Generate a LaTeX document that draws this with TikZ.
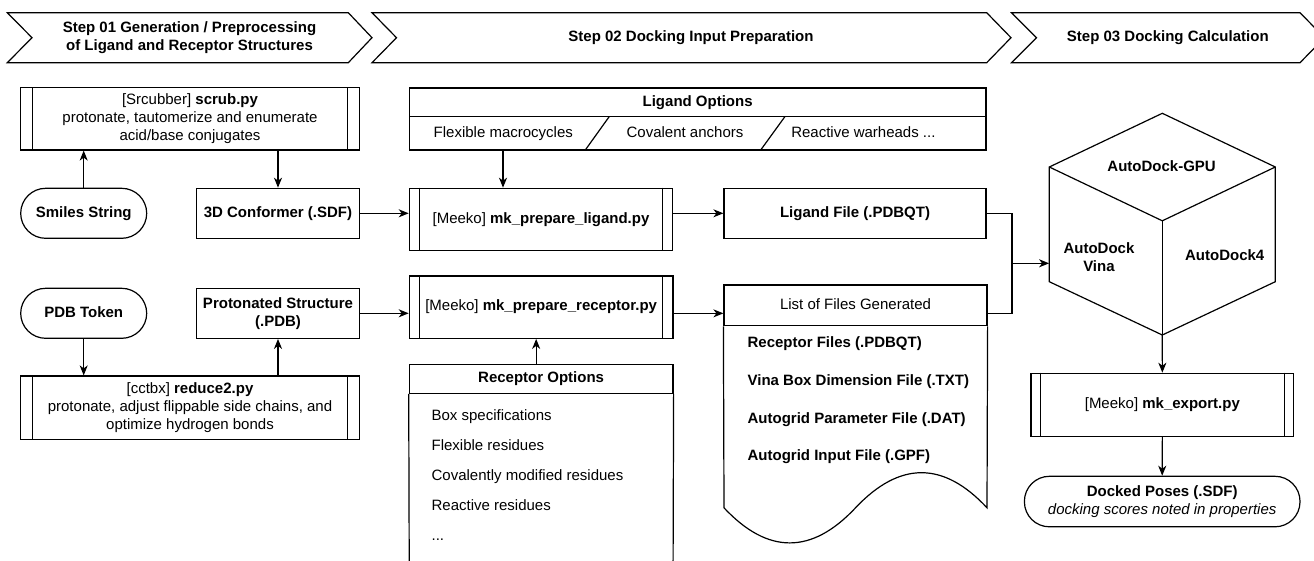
\documentclass[tikz,border=0pt]{standalone}
\usepackage{fontspec}
\setmainfont{Liberation Sans}
\usetikzlibrary{arrows.meta,calc}
\newcommand\procbars[2]{%
  \draw[ln] ([xshift=#2]#1.north west) -- ([xshift=#2]#1.south west);
  \draw[ln] ([xshift=-#2]#1.north east) -- ([xshift=-#2]#1.south east);}
\begin{document}
\begin{tikzpicture}[x=1pt,y=-1pt,
  every node/.style={font=\fontsize{15}{18}\selectfont, inner sep=0pt, text=black},
  ln/.style={draw=black, line width=1.2pt},
  box/.style={ln, fill=white, align=center},
  term/.style={box, rounded corners=25pt},
  sl/.style={text height=10.8pt, text depth=3.2pt},
  arr/.style={draw=black, line width=1.2pt, -{Stealth[length=10pt,width=8pt,inset=3pt]}},
  item/.style={anchor=base west},
]
\useasboundingbox (0,0) rectangle (1314,560);
\clip (0,0) rectangle (1314,560);

% ---------- step chevrons ----------
\draw[ln] (7.3,12.7) -- (348.3,12.7) -- (372,37.7) -- (348.3,62.7) -- (7.3,62.7) -- (32,37.7) -- cycle;
\draw[ln] (372,12.7) -- (986.7,12.7) -- (1011,37.7) -- (986.7,62.7) -- (372,62.7) -- (396.5,37.7) -- cycle;
\draw[ln] (1011.5,12.7) -- (1300,12.7) -- (1324.5,37.7) -- (1300,62.7) -- (1011.5,62.7) -- (1036.5,37.7) -- cycle;
\node[align=center] (s1) at (189.5,37.5) {\textbf{Step 01 Generation / Preprocessing}\\\textbf{of Ligand and Receptor Structures}};
\node[sl] (s2) at (691,37.5) {\textbf{Step 02 Docking Input Preparation}};
\node[sl] (s3) at (1167.8,37.5) {\textbf{Step 03 Docking Calculation}};

% ---------- step 01 ----------
\node[box, minimum width=338.6pt, minimum height=62.3pt] (scrub) at (190,118.85)
  {[Srcubber] \textbf{scrub.py}\\protonate, tautomerize and enumerate\\acid/base conjugates};
\procbars{scrub}{12.6pt}
\node[term, sl, minimum width=126pt, minimum height=50pt] (smiles) at (83.7,213.3) {\textbf{Smiles String}};
\node[box, sl, minimum width=162.6pt, minimum height=50pt] (conf3d) at (278,213.3) {\textbf{3D Conformer (.SDF)}};
\node[term, sl, minimum width=126pt, minimum height=50pt] (pdb) at (83.7,313.3) {\textbf{PDB Token}};
\node[box, minimum width=162.6pt, minimum height=50pt] (protonated) at (278,313.3) {\textbf{Protonated Structure}\\\textbf{(.PDB)}};
\node[box, minimum width=338.6pt, minimum height=63.3pt] (reduce) at (190,407.65)
  {[cctbx] \textbf{reduce2.py}\\protonate, adjust flippable side chains, and\\optimize hydrogen bonds};
\procbars{reduce}{12.6pt}

% ---------- step 02 ----------
\node[box, sl, minimum width=576.7pt, minimum height=28.5pt] (ligopt) at (697.65,102.25) {\textbf{Ligand Options}};
\node[box, minimum width=576.7pt, minimum height=33.5pt] (ligrow) at (697.65,133.25) {};
\draw[ln] (609.3,116.5) -- (585.3,150);
\draw[ln] (785,116.5) -- (760.7,150);
\node[sl] (lo1) at (503.3,133.3) {Flexible macrocycles};
\node[sl] (lo2) at (685,133.3) {Covalent anchors};
\node[sl] (lo3) at (863.4,133.3) {Reactive warheads ...};

\node[box, sl, minimum width=263.4pt, minimum height=62.4pt] (mkligand) at (541,219.5) {[Meeko] \textbf{mk\_prepare\_ligand.py}};
\procbars{mkligand}{11pt}
\node[box, sl, minimum width=262pt, minimum height=50pt] (ligfile) at (855,213.3) {\textbf{Ligand File (.PDBQT)}};

\node[box, sl, minimum width=263.7pt, minimum height=62.3pt] (mkreceptor) at (541.15,307.15) {[Meeko] \textbf{mk\_prepare\_receptor.py}};
\procbars{mkreceptor}{11pt}

\node[box, sl, minimum width=263.7pt, minimum height=29pt] (recopt) at (541.15,378.8) {\textbf{Receptor Options}};
\draw[ln] (recopt.south west) -- (409.3,590);
\draw[ln] (recopt.south east) -- (673,590);
\node[item] (r1) at (431.4,420.5) {Box specifications};
\node[item] (r2) at (431.4,450.5) {Flexible residues};
\node[item] (r3) at (431.4,480.5) {Covalently modified residues};
\node[item] (r4) at (431.4,510.5) {Reactive residues};
\node[item] (r5) at (431.4,540.5) {...};

\node[box, sl, minimum width=263pt, minimum height=40.7pt] (listhdr) at (855.5,305.35) {List of Files Generated};
\draw[ln] (listhdr.south west) -- (724,507.8)
  .. controls (767.8,554.6) and (811.7,554.6) .. (855.5,507.8)
  .. controls (899.7,461) and (943.5,461) .. (987,507.8) -- (listhdr.south east);
\node[sl, anchor=west] (f1) at (747.4,344) {\textbf{Receptor Files (.PDBQT)}};
\node[sl, anchor=west] (f2) at (747.4,381.7) {\textbf{Vina Box Dimension File (.TXT)}};
\node[sl, anchor=west] (f3) at (747.4,419.3) {\textbf{Autogrid Parameter File (.DAT)}};
\node[sl, anchor=west] (f4) at (747.4,456.7) {\textbf{Autogrid Input File (.GPF)}};

% ---------- step 03 ----------
\node[minimum width=226pt, minimum height=221.7pt] (cube) at (1162.3,224.15) {};
\draw[ln, line join=miter] (1162.3,113.3) -- (1275.3,167) -- (1275.3,281.7) -- (1162.3,335)
  -- (1049.3,281.7) -- (1049.3,167) -- cycle;
\draw[ln] (1049.3,167) -- (1162.3,220.8) -- (1275.3,167);
\draw[ln] (1162.3,220.8) -- (1162.3,335);
\node[sl] (gpu) at (1161.6,168) {\textbf{AutoDock-GPU}};
\node[align=center] (vina) at (1099,257) {\textbf{AutoDock}\\\textbf{Vina}};
\node[sl] (ad4) at (1224.7,256.5) {\textbf{AutoDock4}};

\node[box, sl, minimum width=262.7pt, minimum height=63pt] (mkexport) at (1162.35,404.8) {[Meeko] \textbf{mk\_export.py}};
\procbars{mkexport}{9.7pt}
\node[term, minimum width=275.6pt, minimum height=50.5pt] (docked) at (1162.2,501.55)
  {\textbf{Docked Poses (.SDF)}\\\textit{docking scores noted in properties}};

% ---------- connectors ----------
\draw[arr] (smiles.north) -- (smiles.north |- scrub.south);
\draw[arr] (conf3d.north |- scrub.south) -- (conf3d.north);
\draw[arr] (conf3d.east) -- (conf3d.east -| mkligand.west);
\coordinate (lo) at ([xshift=-38pt]mkligand.north);
\draw[arr] (lo |- ligrow.south) -- (lo);
\draw[arr] (ligfile.west -| mkligand.east) -- (ligfile.west);
\coordinate (jn) at (1012,263.3);
\coordinate (lin) at ([yshift=-8pt]listhdr.east);
\draw[ln] (ligfile.east) -| (jn) |- (lin);
\draw[arr] (jn) -- (jn -| cube.west);
\draw[arr] (cube.south) -- (mkexport.north);
\draw[arr] (mkexport.south) -- (docked.north);
\draw[arr] (pdb.south) -- (pdb.south |- reduce.north);
\draw[arr] (protonated.south |- reduce.north) -- (protonated.south);
\draw[arr] (protonated.east) -- (protonated.east -| mkreceptor.west);
\coordinate (ro) at ([xshift=-5pt]recopt.north);
\draw[arr] (ro) -- (ro |- mkreceptor.south);
\coordinate (lil) at ([yshift=-8pt]listhdr.west);
\draw[arr] (lil -| mkreceptor.east) -- (lil);
\end{tikzpicture}
\end{document}
